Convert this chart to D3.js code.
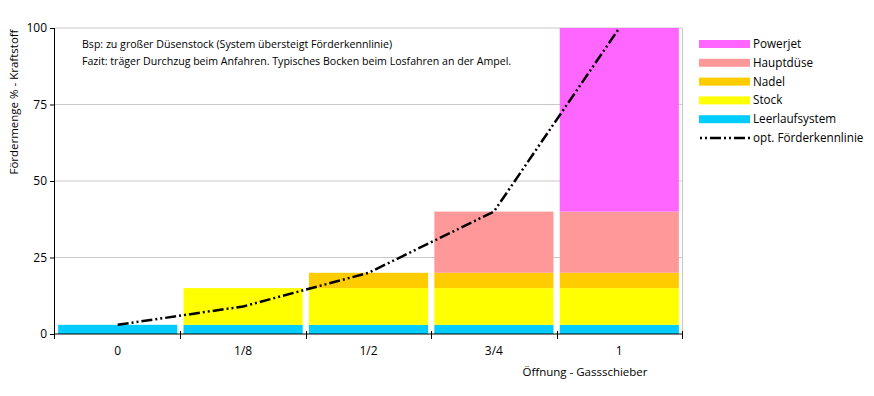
<!DOCTYPE html>
<html>
<head>
<meta charset="utf-8">
<script src="https://cdn.jsdelivr.net/npm/d3@7"></script>
<style>
  body { margin: 0; background: #fff; }
  svg { font-family: "Open Sans", sans-serif; }
</style>
</head>
<body>
<div class="canvas"></div>
<script>
// data
const categories = ['0', '1/8', '1/2', '3/4', '1']
const seriesNames = ['Leerlaufsystem', 'Stock', 'Nadel', 'Hauptdüse', 'Powerjet']
const leerlauf = [3, 3, 3, 3, 3]
const stock = [0, 12, 12, 12, 12]
const nadel = [0, 0, 5, 5, 5]
const hauptduese = [0, 0, 0, 20, 20]
const powerjet = [0, 0, 0, 0, 60]
const kennlinie = [3, 9, 20, 40, 100]
const yTicks = [0, 25, 50, 75, 100]
const colours = ['#00ccff', '#ffff00', '#ffcc00', '#ff9999', '#ff66ff']
const lineName = 'opt. Förderkennlinie'
const note = [
    'Bsp: zu großer Düsenstock (System übersteigt Förderkennlinie)',
    'Fazit: träger Durchzug beim Anfahren. Typisches Bocken beim Losfahren an der Ampel.'
]

const dims = { width: 874, height: 396 }
const plot = { left: 55, right: 682, top: 28, bottom: 334 }

const svg = d3.select('.canvas')
    .append('svg')
    .attr('width', dims.width)
    .attr('height', dims.height)

const table = categories.map((c, i) => ({
    cat: c,
    Leerlaufsystem: leerlauf[i],
    Stock: stock[i],
    Nadel: nadel[i],
    'Hauptdüse': hauptduese[i],
    Powerjet: powerjet[i]
}))

const x = d3.scaleBand()
    .domain(categories)
    .range([plot.left, plot.right])
    .paddingInner(0.05)
    .paddingOuter(0.025)

const y = d3.scaleLinear()
    .domain([0, 100])
    .range([plot.bottom, plot.top])

const colour = d3.scaleOrdinal().domain(seriesNames).range(colours)

// gridlines
svg.append('g')
    .selectAll('line')
    .data(yTicks.filter(t => t > 0))
    .enter().append('line')
    .attr('x1', plot.left).attr('x2', plot.right)
    .attr('y1', d => y(d)).attr('y2', d => y(d))
    .attr('stroke', '#c8c8c8')
    .attr('stroke-width', 1)

// right border
svg.append('line')
    .attr('x1', plot.right + 0.5).attr('x2', plot.right + 0.5)
    .attr('y1', plot.top).attr('y2', plot.bottom)
    .attr('stroke', '#c8c8c8')

// stacked bars
const stacked = d3.stack().keys(seriesNames)(table)

svg.append('g')
    .selectAll('g')
    .data(stacked)
    .enter().append('g')
    .attr('fill', d => colour(d.key))
    .selectAll('rect')
    .data(d => d.filter(p => p[1] > p[0]))
    .enter().append('rect')
    .attr('x', d => x(d.data.cat))
    .attr('width', x.bandwidth())
    .attr('y', d => y(d[1]))
    .attr('height', d => y(d[0]) - y(d[1]))

// line
const line = d3.line()
    .x((d, i) => x(categories[i]) + x.bandwidth() / 2)
    .y(d => y(d))

svg.append('path')
    .datum(kennlinie)
    .attr('d', line)
    .attr('fill', 'none')
    .attr('stroke', '#000')
    .attr('stroke-width', 2.5)
    .attr('stroke-dasharray', '11,3,2,3,2,3')

// y axis
const yAxis = d3.axisLeft(y).tickValues(yTicks).tickSize(5).tickPadding(3)
const yg = svg.append('g')
    .attr('transform', `translate(${plot.left},0)`)
    .call(yAxis)
yg.select('.domain').attr('d', `M-0.5,${plot.top}V${plot.bottom + 5}`).attr('stroke', '#000')
yg.selectAll('text').attr('font-size', 12).attr('fill', '#000').attr('font-family', '"Open Sans", sans-serif')

// x axis: ticks on band boundaries
const xg = svg.append('g')
    .attr('transform', `translate(0,${plot.bottom})`)
xg.append('line')
    .attr('x1', plot.left).attr('x2', plot.right + 1)
    .attr('stroke', '#000')
const bounds = categories.map(c => x(c) + x.bandwidth() + x.step() * x.paddingInner() / 2)
xg.selectAll('.tk')
    .data(bounds)
    .enter().append('line')
    .attr('class', 'tk')
    .attr('x1', d => Math.round(d) + 0.5).attr('x2', d => Math.round(d) + 0.5)
    .attr('y1', -3).attr('y2', 5)
    .attr('stroke', '#000')
xg.selectAll('text')
    .data(categories)
    .enter().append('text')
    .attr('x', d => x(d) + x.bandwidth() / 2)
    .attr('y', 21)
    .attr('text-anchor', 'middle')
    .attr('font-size', 12)
    .text(d => d)

// axis titles
svg.append('text')
    .attr('transform', 'translate(18,102) rotate(-90)')
    .attr('text-anchor', 'middle')
    .attr('font-size', 11.5)
    .text('Fördermenge % - Kraftstoff')

svg.append('text')
    .attr('x', 585)
    .attr('y', 376)
    .attr('text-anchor', 'middle')
    .attr('font-size', 11.5)
    .text('Öffnung - Gassschieber')

// note
svg.append('g')
    .selectAll('text')
    .data(note)
    .enter().append('text')
    .attr('x', 82)
    .attr('y', (d, i) => 48 + i * 17)
    .attr('font-size', 10.6)
    .text(d => d)

// legend
const legendItems = seriesNames.slice().reverse().map(n => ({ name: n, type: 'bar' }))
legendItems.push({ name: lineName, type: 'line' })

const legend = svg.append('g')
    .attr('transform', 'translate(699,44)')

const rows = legend.selectAll('g')
    .data(legendItems)
    .enter().append('g')
    .attr('transform', (d, i) => `translate(0,${i * 18.8})`)

rows.filter(d => d.type === 'bar')
    .append('rect')
    .attr('x', 0).attr('y', -4)
    .attr('width', 51).attr('height', 8)
    .attr('fill', d => colour(d.name))

rows.filter(d => d.type === 'line')
    .append('line')
    .attr('x1', 1).attr('x2', 51)
    .attr('stroke', '#000')
    .attr('stroke-width', 2.5)
    .attr('stroke-dasharray', '2,3,2,3,11,3')

rows.append('text')
    .attr('x', 54)
    .attr('y', 4)
    .attr('font-size', 11.7)
    .text(d => d.name)
</script>
</body>
</html>
